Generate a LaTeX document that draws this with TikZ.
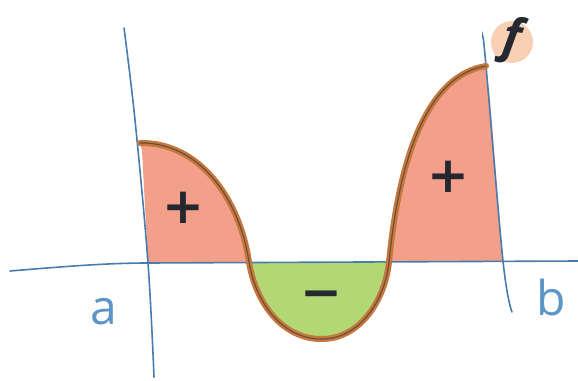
\documentclass[tikz,border=0pt]{standalone}
\usepackage{fontspec}
\newfontfamily\handfont{Open Sans}
\newfontfamily\signfont{DejaVu Sans}
\definecolor{axisblue}{RGB}{72,124,172}
\definecolor{labelblue}{RGB}{92,150,200}
\definecolor{posred}{RGB}{243,160,138}
\definecolor{neggreen}{RGB}{178,216,118}
\definecolor{curveorange}{RGB}{196,120,64}
\definecolor{curvedark}{RGB}{110,78,52}
\definecolor{ink}{RGB}{38,40,48}
\definecolor{fblob}{RGB}{246,196,160}
\begin{document}
\begin{tikzpicture}[x=1pt,y=-1pt,
  axisline/.style={draw=axisblue,line width=1.6pt,line cap=round},
  curveline/.style={draw=curveorange,line width=6pt,line cap=round},
  curveink/.style={draw=curvedark,line width=1.2pt,line cap=round},
  endlabel/.style={text=labelblue,font=\handfont\fontsize{48}{48}\selectfont,inner sep=0pt},
  signlabel/.style={text=ink,font=\signfont\bfseries\fontsize{50}{50}\selectfont,inner sep=0pt}]
\useasboundingbox (0,0) rectangle (578,380);
% key points
\coordinate (c0) at (140,143);
\coordinate (x1) at (249,262);
\coordinate (m) at (320,339);
\coordinate (x2) at (389,262);
\coordinate (c3) at (486,66);
\coordinate (ax) at (148,263);
\coordinate (bx) at (503,261);
% fills
\fill[posred] (c0) .. controls (200,142) and (240,200) .. (x1) -- (ax) -- (142,150) -- cycle;
\fill[neggreen] (x1) .. controls (255,300) and (280,338) .. (m) .. controls (360,340) and (385,300) .. (x2) -- cycle;
\fill[posred] (x2) .. controls (400,150) and (430,75) .. (c3) -- (490,100) -- (bx) -- cycle;
% axes
\draw[axisline] (10,271) .. controls (70,266) and (110,263) .. (ax) -- (578,261);
\draw[axisline] plot[smooth,tension=0.6] coordinates {(124,28) (135,120) (ax) (154,377)};
\draw[axisline] plot[smooth,tension=0.6] coordinates {(483,38) (486,66) (bx) (512,312)};
% curve
\draw[curveline] (c0) .. controls (200,142) and (240,200) .. (x1)
  .. controls (255,300) and (280,338) .. (m)
  .. controls (360,340) and (385,300) .. (x2)
  .. controls (400,150) and (430,75) .. (c3);
\draw[curveink] (c0) .. controls (200,142) and (240,200) .. (x1)
  .. controls (255,300) and (280,338) .. (m)
  .. controls (360,340) and (385,300) .. (x2)
  .. controls (400,150) and (430,75) .. (c3);
% f label
\fill[fblob,opacity=0.8] (512,42) circle (21);
\node[text=ink,font=\handfont\bfseries\itshape\fontsize{48}{48}\selectfont,rotate=-8,inner sep=0pt] (f) at (512,40) {f};
% signs
\node[signlabel] (p1) at (183,208) {+};
\node[signlabel] (p2) at (448,177) {+};
\node[signlabel] (mn) at (321,300) {−};
% end labels
\node[endlabel] (a) at (104,312) {a};
\node[endlabel] (b) at (551,297) {b};
\end{tikzpicture}
\end{document}
